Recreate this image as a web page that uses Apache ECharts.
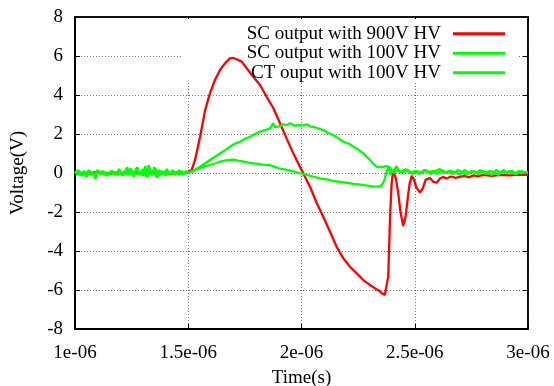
<!DOCTYPE html>
<html>
<head>
<meta charset="utf-8">
<script src="https://cdn.jsdelivr.net/npm/echarts@6/dist/echarts.min.js"></script>
<style>html,body{margin:0;padding:0;background:#fff}#c{width:554px;height:386px}</style>
</head>
<body>
<div id="c"></div>
<script>
// time in microseconds (axis labels shown as "...e-06")
const xTicks = [1, 1.5, 2, 2.5, 3];
const yTicks = [-8, -6, -4, -2, 0, 2, 4, 6, 8];
const seriesNames = ['SC output with 900V HV', 'SC output with 100V HV', 'CT ouput with 100V HV'];

const redT = [1.00,1.03,1.06,1.09,1.12,1.15,1.18,1.21,1.24,1.27,1.30,1.33,1.36,1.39,1.42,1.45,1.48,1.50,1.515,1.53,1.552,1.574,1.596,1.618,1.64,1.662,1.684,1.70,1.714,1.736,1.758,1.787,1.817,1.846,1.876,1.905,1.935,1.965,1.993,2.008,2.038,2.067,2.096,2.126,2.155,2.185,2.214,2.244,2.273,2.302,2.332,2.345,2.354,2.362,2.368,2.376,2.383,2.391,2.398,2.405,2.411,2.417,2.427,2.437,2.449,2.46,2.47,2.478,2.487,2.497,2.507,2.523,2.535,2.548,2.567,2.582,2.597,2.61,2.625,2.64,2.66,2.68,2.70,2.72,2.74,2.76,2.78,2.80,2.84,2.88,2.92,2.96,3.00];
const redV = [0.05,0.0,-0.05,0.05,0.0,-0.05,0.02,-0.03,0.05,0.0,-0.05,0.05,-0.02,0.03,-0.05,0.02,0.0,0.05,0.15,0.67,1.85,3.2,4.1,4.77,5.28,5.62,5.88,5.9,5.83,5.71,5.37,4.94,4.51,3.91,3.32,2.55,1.75,0.98,0.32,-0.02,-0.72,-1.54,-2.24,-3.01,-3.78,-4.38,-4.81,-5.15,-5.49,-5.74,-5.97,-6.05,-6.17,-6.1,-6.25,-6.15,-5.3,-2.24,-0.53,0.15,0.1,-0.3,-1.03,-2.0,-2.72,-2.2,-1.2,-0.5,-0.15,-0.35,-0.75,-1.0,-0.8,-0.35,-0.26,-0.45,-0.5,-0.3,-0.2,-0.28,-0.18,-0.25,-0.2,-0.15,-0.22,-0.12,-0.18,-0.1,-0.15,-0.1,-0.12,-0.08,-0.1];

const scT = [1.00,1.01,1.02,1.03,1.04,1.05,1.06,1.07,1.08,1.09,1.10,1.11,1.12,1.13,1.14,1.15,1.16,1.17,1.18,1.19,1.20,1.21,1.22,1.23,1.24,1.25,1.26,1.27,1.28,1.29,1.30,1.31,1.32,1.33,1.34,1.35,1.36,1.37,1.38,1.39,1.40,1.41,1.42,1.43,1.44,1.45,1.46,1.47,1.48,1.49,1.50,1.51,1.53,1.552,1.575,1.596,1.62,1.64,1.66,1.684,1.705,1.728,1.75,1.773,1.795,1.817,1.84,1.861,1.875,1.883,1.905,1.92,1.935,1.95,1.97,1.99,2.01,2.023,2.04,2.052,2.075,2.096,2.118,2.14,2.16,2.185,2.21,2.229,2.25,2.273,2.29,2.302,2.315,2.332,2.345,2.361,2.375,2.385,2.393,2.40,2.41,2.42,2.43,2.45,2.47,2.49,2.51,2.53,2.55,2.57,2.59,2.61,2.63,2.65,2.67,2.69,2.71,2.73,2.75,2.77,2.79,2.81,2.83,2.85,2.87,2.89,2.91,2.93,2.95,2.97,3.00];
const scV = [0.1,-0.1,0.05,-0.15,0.1,-0.05,0.15,-0.1,0.0,-0.3,0.1,-0.05,0.1,-0.1,0.05,-0.1,0.1,-0.05,0.05,-0.1,0.1,-0.15,0.05,0.3,-0.1,0.15,-0.2,0.25,-0.1,0.1,-0.15,0.35,-0.2,0.2,-0.1,0.3,-0.25,0.15,-0.1,0.1,-0.15,0.1,-0.05,0.15,-0.1,0.05,-0.1,0.1,-0.05,0.1,0.0,0.05,0.15,0.32,0.5,0.67,0.85,1.0,1.15,1.35,1.5,1.6,1.75,1.86,2.0,2.12,2.2,2.29,2.55,2.35,2.4,2.5,2.46,2.55,2.42,2.46,2.44,2.5,2.38,2.37,2.28,2.2,2.05,1.95,1.8,1.6,1.5,1.35,1.2,1.01,0.8,0.67,0.5,0.32,0.3,0.32,0.35,0.3,-0.1,0.05,0.2,0.35,0.1,0.05,0.15,-0.05,0.1,0.0,0.15,-0.05,0.1,0.2,0.0,0.1,-0.05,0.15,0.05,-0.1,0.1,0.0,0.15,-0.05,0.1,0.05,-0.1,0.15,0.0,0.1,-0.05,0.1,0.0,0.05];

const ctT = [1.00,1.015,1.025,1.035,1.05,1.065,1.075,1.085,1.10,1.115,1.125,1.14,1.155,1.165,1.18,1.195,1.205,1.22,1.235,1.245,1.26,1.275,1.285,1.30,1.315,1.325,1.34,1.355,1.365,1.38,1.395,1.405,1.42,1.435,1.445,1.46,1.475,1.485,1.50,1.52,1.55,1.575,1.596,1.62,1.64,1.66,1.684,1.70,1.72,1.74,1.76,1.78,1.80,1.82,1.84,1.86,1.88,1.90,1.93,1.96,1.99,2.02,2.05,2.08,2.11,2.14,2.17,2.20,2.23,2.26,2.29,2.32,2.34,2.355,2.365,2.372,2.38,2.39,2.40,2.41,2.42,2.44,2.46,2.48,2.50,2.52,2.54,2.56,2.58,2.60,2.62,2.64,2.66,2.68,2.70,2.72,2.74,2.76,2.78,2.80,2.82,2.84,2.86,2.88,2.90,2.92,2.94,2.96,2.98,3.00];
const ctV = [0.0,0.15,-0.1,0.05,-0.2,0.1,0.0,-0.1,0.15,-0.05,0.1,-0.15,0.05,0.1,-0.1,0.2,-0.05,0.1,-0.1,0.25,-0.15,0.3,-0.1,0.2,-0.2,0.4,-0.1,0.25,-0.2,0.1,-0.05,0.2,-0.1,0.1,-0.05,0.15,-0.1,0.05,0.0,0.1,0.25,0.35,0.41,0.5,0.58,0.64,0.67,0.68,0.63,0.6,0.55,0.5,0.48,0.44,0.42,0.4,0.33,0.24,0.17,0.1,0.0,-0.08,-0.18,-0.27,-0.33,-0.4,-0.45,-0.5,-0.56,-0.6,-0.65,-0.7,-0.7,-0.62,-0.4,-0.1,0.2,0.3,0.1,0.0,0.15,0.05,0.2,0.0,0.1,-0.05,0.15,0.05,0.1,-0.05,0.15,0.0,0.1,0.05,-0.1,0.15,0.0,0.1,-0.05,0.1,0.05,-0.1,0.15,0.0,0.05,0.1,-0.05,0.1,0.0,0.05];

const zip = (t, v) => t.map((x, i) => [x, v[i]]);
const FONT = 'Liberation Serif';
const chart = echarts.init(document.getElementById('c'), null, {renderer: 'canvas'});

const mkX = (pos, main) => ({
  type: 'value', position: pos, min: xTicks[0], max: xTicks[xTicks.length - 1], interval: 0.5,
  name: main ? 'Time(s)' : '', nameLocation: 'middle', nameGap: 40,
  nameTextStyle: {fontFamily: FONT, fontSize: 19, color: '#000'},
  axisLine: {show: true, onZero: false, lineStyle: {color: '#000', width: main ? 2 : 1.5}},
  axisTick: {show: true, inside: true, length: 5, lineStyle: {color: '#000', width: 1}},
  axisLabel: {show: main, margin: 15, fontFamily: FONT, fontSize: 19, color: '#000', formatter: v => v + 'e-06'},
  splitLine: {show: main, lineStyle: {color: '#777', type: [1, 2], width: 1}}
});
const mkY = (pos, main) => ({
  type: 'value', position: pos, min: yTicks[0], max: yTicks[yTicks.length - 1], interval: 2,
  name: main ? 'Voltage(V)' : '', nameLocation: 'middle', nameGap: 47, nameRotate: 90,
  nameTextStyle: {fontFamily: FONT, fontSize: 19, color: '#000'},
  axisLine: {show: true, onZero: false, lineStyle: {color: '#000', width: main ? 2 : 1.5}},
  axisTick: {show: true, inside: true, length: 5, lineStyle: {color: '#000', width: 1}},
  axisLabel: {show: main, margin: 12, fontFamily: FONT, fontSize: 19, color: '#000'},
  splitLine: {show: main, lineStyle: {color: '#777', type: [1, 2], width: 1}}
});

chart.setOption({
  animation: false,
  backgroundColor: '#fff',
  grid: {left: 75, right: 26, top: 17, bottom: 57, containLabel: false, outerBoundsMode: 'none',
    show: true, borderColor: '#000', borderWidth: 1.5},
  xAxis: [mkX('bottom', true), mkX('top', false)],
  yAxis: [mkY('left', true), mkY('right', false)],
  graphic: [{type: 'rect', z: 1, shape: {x: 183, y: 19, width: 334, height: 64}, style: {fill: '#fff'}}],
  legend: {
    orient: 'vertical', align: 'right', right: 44, top: 19, itemGap: 0,
    itemWidth: 52, itemHeight: 3, icon: 'rect',
    textStyle: {fontFamily: FONT, fontSize: 19, color: '#000', lineHeight: 19.5, padding: [0, 7, 0, 0]},
    data: seriesNames
  },
  series: [
    {name: seriesNames[0], type: 'line', symbol: 'none', data: zip(redT, redV), color: '#ff0000', lineStyle: {color: '#ff0000', width: 2.3}},
    {name: seriesNames[1], type: 'line', symbol: 'none', data: zip(scT, scV), color: '#00ff00', lineStyle: {color: '#00ff00', width: 2.3}},
    {name: seriesNames[2], type: 'line', symbol: 'none', data: zip(ctT, ctV), color: '#00ff00', lineStyle: {color: '#00ff00', width: 2.3}}
  ]
});
</script>
</body>
</html>
